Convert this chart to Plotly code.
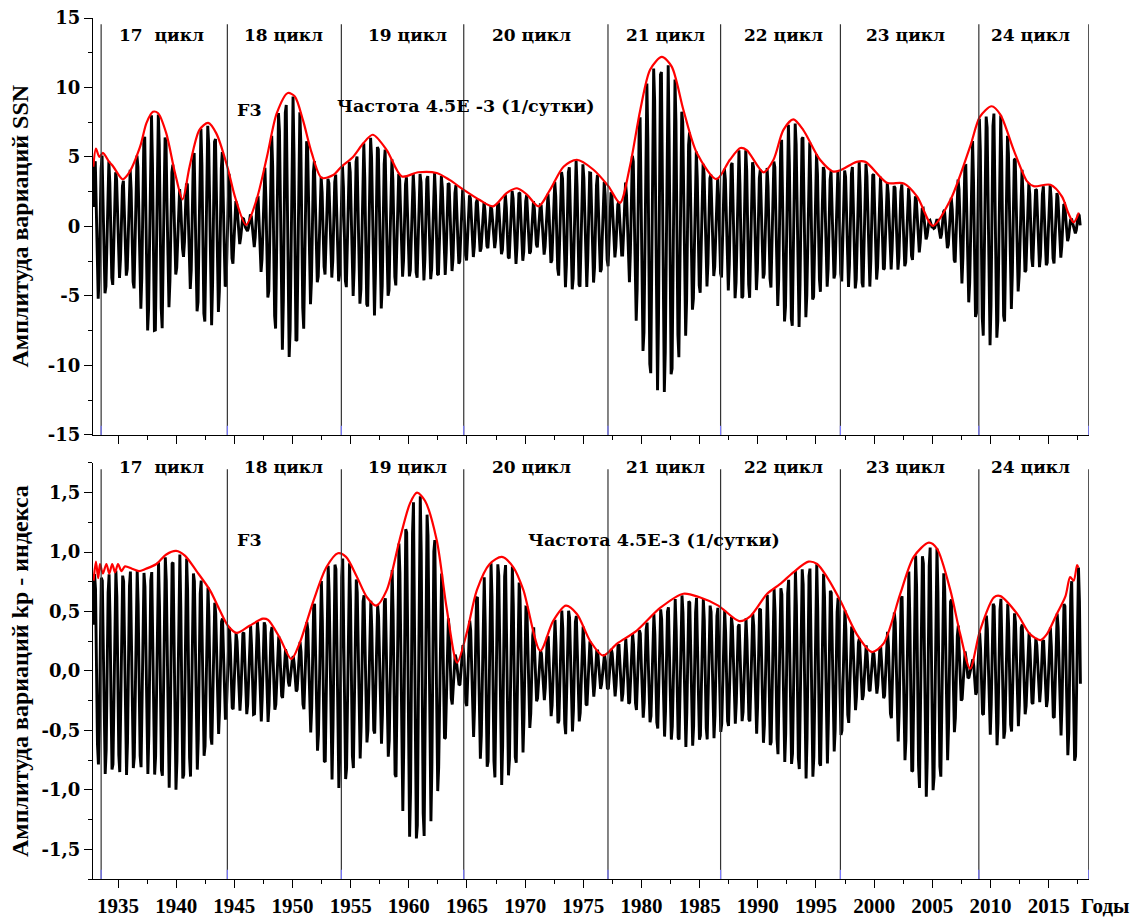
import numpy as np
import plotly.graph_objects as go

# ---------------- data ----------------
# upper (red) envelope of the SSN band signal: years, amplitude
ssn_env_years = [1932.88, 1933.1, 1933.4, 1933.7, 1934.2, 1934.6, 1935.4, 1935.9, 1936.9, 1937.45,
                 1938.0, 1938.45, 1939.15, 1939.9, 1940.55, 1941.15, 1942.0, 1942.75, 1943.45, 1944.4,
                 1945.05, 1946.0, 1946.9, 1947.8, 1948.65, 1949.6, 1950.2, 1950.9, 1951.65, 1952.5,
                 1953.5, 1954.2, 1955.2, 1956.1, 1956.9, 1958.1, 1959.4, 1960.8, 1962.4, 1963.5,
                 1964.7, 1966.1, 1967.25, 1968.4, 1969.3, 1970.15, 1971.15, 1972.15, 1973.3, 1974.45,
                 1975.85, 1977.15, 1978.15, 1979.0, 1979.9, 1980.75, 1981.75, 1982.6, 1983.6, 1984.75,
                 1986.45, 1987.6, 1988.5, 1989.05, 1990.5, 1991.35, 1992.2, 1993.05, 1993.9, 1995.35,
                 1996.5, 1997.1, 1998.5, 1999.25, 2001.1, 2002.55, 2003.7, 2005.05, 2006.55, 2008.25,
                 2009.1, 2010.1, 2010.85, 2012.0, 2013.15, 2013.7, 2015.15, 2016.15, 2016.7, 2017.15,
                 2017.6]
ssn_env_vals = [4.3, 5.6, 5.0, 5.3, 4.7, 4.3, 3.4, 3.8, 5.75, 7.45,
                8.25, 8.15, 6.7, 3.85, 1.95, 4.3, 6.95, 7.45, 6.7, 4.3,
                2.15, 0.12, 1.9, 5.0, 8.15, 9.6, 9.35, 7.65, 5.3, 3.5,
                3.7, 4.3, 5.0, 6.0, 6.6, 5.5, 3.6, 3.9, 3.85, 3.35,
                2.65, 1.9, 1.45, 2.4, 2.75, 2.3, 1.45, 2.65, 4.3, 4.8,
                4.1, 2.9, 1.7, 4.3, 8.4, 11.3, 12.2, 11.5, 8.4, 5.3,
                3.4, 4.8, 5.65, 5.5, 3.9, 4.8, 6.95, 7.7, 6.95, 4.8,
                3.95, 4.05, 4.65, 4.65, 3.15, 3.1, 2.15, 0.05, 1.9, 5.75,
                7.9, 8.65, 8.05, 5.5, 3.25, 2.9, 3.0, 2.15, 0.95, 0.3,
                1.0]

# upper (red) envelope of the kp band signal
kp_env_years = [1932.9, 1933.1, 1933.3, 1933.45, 1933.7, 1934.0, 1934.25, 1934.5, 1934.75, 1935.0,
                1935.3, 1935.6, 1936.2, 1936.8, 1937.4, 1938.3, 1939.15, 1940.0, 1940.75, 1941.75,
                1942.9, 1943.75, 1944.45, 1945.2, 1946.3, 1947.45, 1947.9, 1948.9, 1949.9, 1950.6,
                1951.8, 1952.9, 1953.9, 1954.6, 1955.5, 1956.4, 1957.2, 1958.1, 1959.2, 1960.1,
                1960.7, 1961.4, 1962.4, 1963.25, 1964.15, 1964.95, 1965.85, 1966.95, 1968.0, 1969.0,
                1969.85, 1971.3, 1972.4, 1973.5, 1974.45, 1975.6, 1976.7, 1977.9, 1979.6, 1981.6,
                1983.6, 1985.0, 1986.6, 1988.4, 1989.35, 1990.8, 1991.9, 1993.05, 1994.35, 1995.1,
                1995.95, 1997.1, 1998.5, 1999.8, 2000.8, 2002.25, 2003.4, 2004.7, 2005.4, 2006.55,
                2007.4, 2008.25, 2009.1, 2010.3, 2010.85, 2012.3, 2013.4, 2014.3, 2014.85, 2015.7,
                2016.45, 2016.85, 2017.15, 2017.45, 2017.55]
kp_env_vals = [0.76, 0.92, 0.78, 0.9, 0.82, 0.9, 0.82, 0.9, 0.83, 0.9,
               0.84, 0.88, 0.86, 0.84, 0.86, 0.9, 0.98, 1.01, 0.97, 0.84,
               0.68, 0.51, 0.38, 0.32, 0.38, 0.44, 0.43, 0.28, 0.1, 0.23,
               0.59, 0.87, 0.99, 0.96, 0.8, 0.62, 0.55, 0.68, 1.1, 1.41,
               1.5, 1.43, 1.1, 0.53, 0.07, 0.31, 0.68, 0.9, 0.96, 0.87,
               0.68, 0.17, 0.42, 0.55, 0.48, 0.25, 0.13, 0.23, 0.34, 0.53,
               0.65, 0.62, 0.55, 0.42, 0.46, 0.65, 0.73, 0.83, 0.92, 0.9,
               0.79, 0.59, 0.31, 0.16, 0.23, 0.65, 0.96, 1.08, 1.03, 0.68,
               0.31, 0.02, 0.34, 0.62, 0.63, 0.48, 0.31, 0.26, 0.31, 0.48,
               0.63, 0.79, 0.76, 0.89, 0.87]

# frequency of the band shown (from the chart label), 1/day
carrier_freq_per_day = 4.5e-3
# span of the black band signal (years)
ssn_signal_span = [1932.88, 2017.75]
kp_signal_span = [1932.9, 2017.8]

# starts of solar cycles 17..25 (vertical lines)
cycle_starts = [1933.55, 1944.4, 1954.2, 1964.72, 1977.12, 1986.8, 1997.1, 2009.0, 2018.45]
cycle_names = ["17\u00a0\u00a0цикл", "18 цикл", "19 цикл", "20 цикл", "21 цикл",
               "22 цикл", "23 цикл", "24 цикл"]
cycle_label_years = [1938.75, 1949.2, 1959.85, 1970.55, 1982.05, 1992.25, 2002.7, 2013.45]

x_tick_vals = [1935, 1940, 1945, 1950, 1955, 1960, 1965, 1970, 1975, 1980, 1985, 1990,
               1995, 2000, 2005, 2010, 2015]
x_tick_text = [str(v) for v in x_tick_vals]
ssn_tick_vals = [-15, -10, -5, 0, 5, 10, 15]
ssn_tick_text = ["-15", "-10", "-5", "0", "5", "10", "15"]
kp_tick_vals = [-1.5, -1.0, -0.5, 0.0, 0.5, 1.0, 1.5]
kp_tick_text = ["-1,5", "-1,0", "-0,5", "0,0", "0,5", "1,0", "1,5"]

# ---------------- build band signals (monthly samples) ----------------
def band_signal(span, env_years, env_vals):
    t = np.arange(span[0], span[1], 1.0 / 12.0)
    env = np.interp(t, env_years, env_vals)
    phase = 2 * np.pi * carrier_freq_per_day * (t - 1933.0) * 365.25
    return t, env * np.cos(phase)

t1, s1 = band_signal(ssn_signal_span, ssn_env_years, ssn_env_vals)
t2, s2 = band_signal(kp_signal_span, kp_env_years, kp_env_vals)

# ---------------- figure ----------------
W, H = 1137, 919
ML, MR, MT, MB = 93, 48, 18, 40
PW = W - ML - MR
PH = H - MT - MB

SERIF_W = "DejaVu Serif"
SERIF_T = "Liberation Serif"
XR = [1932.85, 2018.47]
SIG_W = 2.9

fig = go.Figure()
fig.add_trace(go.Scatter(x=t1, y=s1, mode="lines", line=dict(color="black", width=SIG_W),
                         xaxis="x", yaxis="y", showlegend=False, hoverinfo="skip"))
fig.add_trace(go.Scatter(x=ssn_env_years, y=ssn_env_vals, mode="lines",
                         line=dict(color="#ff0000", width=2.2, shape="spline", smoothing=0.8),
                         xaxis="x", yaxis="y", showlegend=False))
fig.add_trace(go.Scatter(x=t2, y=s2, mode="lines", line=dict(color="black", width=SIG_W),
                         xaxis="x2", yaxis="y2", showlegend=False, hoverinfo="skip"))
fig.add_trace(go.Scatter(x=kp_env_years, y=kp_env_vals, mode="lines",
                         line=dict(color="#ff0000", width=2.2, shape="spline", smoothing=0.8),
                         xaxis="x2", yaxis="y2", showlegend=False))

axis_common = dict(showline=True, linecolor="black", linewidth=1.3, ticks="outside",
                   ticklen=8, tickwidth=1.3, tickcolor="black", showgrid=False, zeroline=False,
                   mirror=False, ticklabeloverflow="allow", automargin=False)

fig.update_layout(
    width=W, height=H,
    margin=dict(l=ML, r=MR, t=MT, b=MB, autoexpand=False),
    paper_bgcolor="white", plot_bgcolor="white",
    xaxis=dict(domain=[0, 1], anchor="y", range=XR, tickvals=x_tick_vals, showticklabels=False,
               minor=dict(ticks="outside", ticklen=4, tickwidth=1.3, tickcolor="black",
                          tick0=1932.5, dtick=2.5),
               **axis_common),
    yaxis=dict(domain=[0.5157, 1.0], anchor="x", range=[-15, 15], tickvals=ssn_tick_vals,
               ticktext=ssn_tick_text,
               tickfont=dict(family=SERIF_W, size=18, color="black", weight="bold"),
               minor=dict(ticks="outside", ticklen=4, tickwidth=1.3, tickcolor="black",
                          tick0=0, dtick=2.5),
               **axis_common),
    xaxis2=dict(domain=[0, 1], anchor="y2", range=XR, tickvals=x_tick_vals, ticktext=x_tick_text,
                tickfont=dict(family=SERIF_T, size=21, color="black", weight="bold"),
                minor=dict(ticks="outside", ticklen=4, tickwidth=1.3, tickcolor="black",
                           tick0=1932.5, dtick=2.5),
                **axis_common),
    yaxis2=dict(domain=[0.0, 0.4832], anchor="x2", range=[-1.75, 1.75], tickvals=kp_tick_vals,
                ticktext=kp_tick_text,
                tickfont=dict(family=SERIF_W, size=18, color="black", weight="bold"),
                minor=dict(ticks="outside", ticklen=4, tickwidth=1.3, tickcolor="black",
                           tick0=0, dtick=0.25),
                **axis_common),
)

shapes = []
for xr, yr in (("x", "y domain"), ("x2", "y2 domain")):
    for cs in cycle_starts:
        shapes.append(dict(type="line", xref=xr, yref=yr, x0=cs, x1=cs, y0=0, y1=0.985,
                           line=dict(color="#333333", width=1.2), layer="above"))
        shapes.append(dict(type="line", xref=xr, yref=yr, x0=cs, x1=cs, y0=0, y1=0.022,
                           line=dict(color="#7b7bff", width=1.2), layer="above"))
fig.update_layout(shapes=shapes)

ann = []
lab_font = dict(family=SERIF_W, size=17, color="black", weight="bold")
for name, xc in zip(cycle_names, cycle_label_years):
    ann.append(dict(x=xc, y=0.959, xref="x", yref="y domain", text=name, showarrow=False,
                    font=lab_font, xanchor="center", yanchor="middle"))
    ann.append(dict(x=xc, y=0.991, xref="x2", yref="y2 domain", text=name, showarrow=False,
                    font=lab_font, xanchor="center", yanchor="middle"))
note_font = dict(family=SERIF_W, size=17.5, color="black", weight="bold")
ann.append(dict(x=1946.3, y=8.4, xref="x", yref="y", text="F3", showarrow=False, font=note_font))
ann.append(dict(x=1964.9, y=8.65, xref="x", yref="y", text="Частота 4.5E -3 (1/сутки)",
                showarrow=False, font=note_font))
ann.append(dict(x=1946.3, y=1.10, xref="x2", yref="y2", text="F3", showarrow=False, font=note_font))
ann.append(dict(x=1981.1, y=1.10, xref="x2", yref="y2", text="Частота 4.5E-3 (1/сутки)",
                showarrow=False, font=note_font))
title_font = dict(family=SERIF_T, size=24, color="black", weight="bold")
title_x = (20 - ML) / PW
ann.append(dict(x=title_x, y=0.5, xref="paper", yref="y domain", text="Амплитуда вариаций SSN",
                textangle=-90, showarrow=False, font=title_font, xanchor="center"))
ann.append(dict(x=title_x, y=0.5, xref="paper", yref="y2 domain",
                text="Амплитуда вариаций kp - индекса",
                textangle=-90, showarrow=False, font=title_font, xanchor="center"))
ann.append(dict(x=(1131 - ML) / PW, y=((H - MB) - 906) / PH, xref="paper", yref="paper",
                text="Годы", showarrow=False,
                font=dict(family=SERIF_T, size=21, color="black", weight="bold"),
                xanchor="right", yanchor="middle"))
fig.update_layout(annotations=ann)

fig.write_html("out.html",
               config={"displayModeBar": False},
               post_script="document.body.style.margin='0px';"
                           "document.body.style.overflow='hidden';")
